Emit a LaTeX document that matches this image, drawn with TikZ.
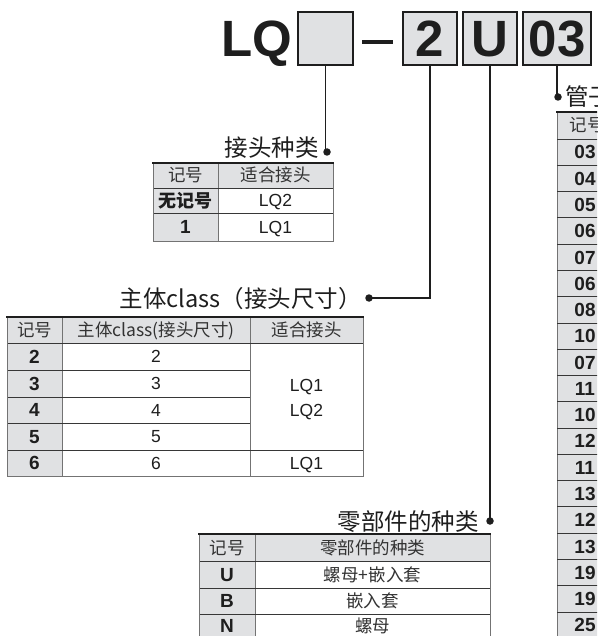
\documentclass[tikz,border=0pt]{standalone}
\usepackage{fontspec}
\setmainfont{Liberation Sans}
\newfontfamily\cjk{Noto Sans CJK SC}
\definecolor{boxgray}{RGB}{224,225,227}
\definecolor{cellgray}{RGB}{224,225,227}
\definecolor{rulegray}{RGB}{55,55,55}
\definecolor{framegray}{RGB}{115,115,115}
\definecolor{ink}{RGB}{30,30,30}
\tikzset{
 big/.style={font=\bfseries\fontsize{51}{51}\selectfont, inner sep=0, text=ink},
 codebox/.style={draw=ink, line width=1.8pt, fill=boxgray, inner sep=0, minimum height=53pt},
 conn/.style={line width=1.6pt, ink},
 dotmark/.style={circle, fill=ink, inner sep=0, minimum size=7.5pt},
 titletext/.style={font=\cjk\fontsize{23.5}{23.5}\selectfont, inner sep=0, text=ink},
 cellcjk/.style={font=\cjk\fontsize{17.5}{17.5}\selectfont, inner sep=0, text=black!80},
 cellcjkb/.style={font=\cjk\bfseries\fontsize{18}{18}\selectfont, inner sep=0, text=ink},
 cellnum/.style={font=\fontsize{17.5}{17.5}\selectfont, inner sep=0, text=ink},
 cellb/.style={font=\bfseries\fontsize{19}{19}\selectfont, inner sep=0, text=ink},
 rowrule/.style={rulegray, line width=0.9pt},
 colrule/.style={framegray, line width=0.9pt},
 toprule/.style={ink, line width=2pt},
}
\begin{document}
\begin{tikzpicture}[x=1pt,y=-1pt]
\useasboundingbox (0,0) rectangle (597,636);
\clip (0,0) rectangle (597,636);
\fill[white] (0,0) rectangle (597,636);

% ---------- top code ----------
\node[big, anchor=base west] (lq) at (221,57) {LQ};
\node[codebox, minimum width=55pt] (b1) at (325.5,38.5) {};
\draw[ink, line width=4pt] (362,42) -- (393,42);
\node[codebox, minimum width=54pt] (b2) at (430,38.5) {};
\node[codebox, minimum width=54pt] (bU) at (490,38.5) {};
\node[codebox, minimum width=68pt] (b3) at (557,38.5) {};
\node[big, anchor=base] (t2) at (430,57) {2};
\node[big, anchor=base] (tU) at (490,57) {U};
\node[big, anchor=base] (t3) at (557,57) {03};

% ---------- connectors ----------
\node[dotmark] (d1) at (327,152) {};
\node[dotmark] (d2) at (369,298) {};
\node[dotmark] (d3) at (490,521) {};
\node[dotmark] (d4) at (558,97) {};
\draw[conn] (b1.south) -- (b1.south |- d1.center) -- (d1.center);
\draw[conn] (b2.south) |- (d2.center);
\draw[conn] (bU.south) -- (d3.center);
\draw[conn] (b3.south) -- (b3.south |- d4.center) -- (d4.center);

% ---------- titles ----------
\node[titletext, anchor=base east] (h1) at (319,157) {接头种类};
\node[titletext, anchor=base east] (h2) at (362,307) {主体class（接头尺寸）};
\node[titletext, anchor=base east] (h3) at (479,530) {零部件的种类};
\node[titletext, anchor=base west] (h4) at (565,106) {管子尺寸};

% ---------- table 1 ----------
\fill[cellgray] (153,163) rectangle (333,188);
\fill[cellgray] (153,188) rectangle (218,241);
\draw[colrule] (218,163) -- (218,241);
\draw[rowrule] (153,188) -- (333,188);
\draw[rowrule] (153,213) -- (333,213);
\draw[colrule] (153,163) -- (153,241) -- (333,241) -- (333,163);
\draw[toprule] (152,163) -- (334,163);
\node[cellcjk, anchor=base] (a11) at (185.5,182) {记号};
\node[cellcjk, anchor=base] (a12) at (275.5,182) {适合接头};
\node[cellcjkb, anchor=base] (a21) at (185.5,207.3) {无记号};
\node[cellnum, anchor=base] (a22) at (275.5,206.8) {LQ2};
\node[cellb, anchor=base] (a31) at (185.5,233.8) {1};
\node[cellnum, anchor=base] (a32) at (275.5,233.3) {LQ1};

% ---------- table 2 ----------
\fill[cellgray] (7,317) rectangle (363,343);
\fill[cellgray] (7,343) rectangle (62,476);
\draw[colrule] (62,317) -- (62,476);
\draw[colrule] (250,317) -- (250,476);
\draw[rowrule] (7,343) -- (363,343);
\draw[rowrule] (7,370) -- (250,370);
\draw[rowrule] (7,397) -- (250,397);
\draw[rowrule] (7,423) -- (250,423);
\draw[rowrule] (7,450) -- (363,450);
\draw[colrule] (7,317) -- (7,476) -- (363,476) -- (363,317);
\draw[toprule] (6,317) -- (364,317);
\node[cellcjk, anchor=base] (c01) at (34.5,336.7) {记号};
\node[cellcjk, anchor=base] (c02) at (156,336.7) {主体class(接头尺寸)};
\node[cellcjk, anchor=base] (c03) at (306.5,336.7) {适合接头};
\node[cellb, anchor=base] (c11) at (34.5,363.3) {2};
\node[cellnum, anchor=base] (c12) at (156,362.8) {2};
\node[cellb, anchor=base] (c21) at (34.5,390.3) {3};
\node[cellnum, anchor=base] (c22) at (156,389.8) {3};
\node[cellb, anchor=base] (c31) at (34.5,416.8) {4};
\node[cellnum, anchor=base] (c32) at (156,416.3) {4};
\node[cellb, anchor=base] (c41) at (34.5,443.3) {5};
\node[cellnum, anchor=base] (c42) at (156,442.8) {5};
\node[cellb, anchor=base] (c51) at (34.5,469.8) {6};
\node[cellnum, anchor=base] (c52) at (156,469.3) {6};
\node[cellnum, anchor=base] (c23) at (306.5,391.3) {LQ1};
\node[cellnum, anchor=base] (c33) at (306.5,416.3) {LQ2};
\node[cellnum, anchor=base] (c53) at (306.5,469.3) {LQ1};

% ---------- table 3 ----------
\fill[cellgray] (199,534) rectangle (490,561);
\fill[cellgray] (199,561) rectangle (255,640);
\draw[colrule] (255,534) -- (255,640);
\draw[rowrule] (199,561) -- (490,561);
\draw[rowrule] (199,588) -- (490,588);
\draw[rowrule] (199,614) -- (490,614);
\draw[colrule] (199,534) -- (199,640);
\draw[colrule] (490,534) -- (490,640);
\draw[toprule] (198,534) -- (491,534);
\node[cellcjk, anchor=base] (e01) at (227,554.2) {记号};
\node[cellcjk, anchor=base] (e02) at (372.5,554.2) {零部件的种类};
\node[cellb, anchor=base] (e11) at (227,581.3) {U};
\node[cellcjk, anchor=base] (e12) at (372.5,581.2) {螺母+嵌入套};
\node[cellb, anchor=base] (e21) at (227,607.8) {B};
\node[cellcjk, anchor=base] (e22) at (372.5,607.7) {嵌入套};
\node[cellb, anchor=base] (e31) at (227,632.5) {N};
\node[cellcjk, anchor=base] (e32) at (372.5,632.3) {螺母};

% ---------- right table (clipped) ----------
\fill[cellgray] (557,112) rectangle (640,640);
\draw[colrule] (557,112) -- (557,640);
\draw[toprule] (556,112) -- (640,112);
\node[cellcjk, anchor=base] (r0) at (587,132) {记号};
\foreach \c [count=\i from 0] in {03,04,05,06,07,06,08,10,07,11,10,12,11,13,12,13,19,19,25}{
  \pgfmathsetmacro{\rowtop}{139+26.28*\i}
  \draw[rowrule] (557,\rowtop) -- (640,\rowtop);
  \node[cellb, anchor=base] (r\i) at (585,\rowtop+19.9) {\c};
}
\end{tikzpicture}
\end{document}
